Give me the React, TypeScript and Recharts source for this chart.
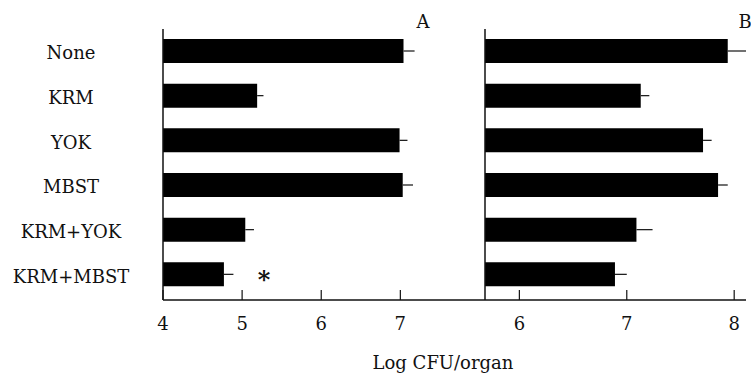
import { Bar, BarChart, ErrorBar, LabelList, XAxis, YAxis } from "recharts";

const categories = ["None", "KRM", "YOK", "MBST", "KRM+YOK", "KRM+MBST"];
const panelAValues = [7.04, 5.19, 6.99, 7.03, 5.04, 4.77];
const panelAErrors = [0.14, 0.08, 0.1, 0.13, 0.11, 0.12];
const panelBValues = [7.94, 7.13, 7.71, 7.85, 7.09, 6.89];
const panelBErrors = [0.17, 0.08, 0.08, 0.09, 0.15, 0.11];
const panelATicks = [4, 5, 6, 7];
const panelBTicks = [6, 7, 8];
const significantA = ["KRM+MBST"];

const FONT = "'DejaVu Serif', serif";
const INK = "#111111";

const buildRows = (values: number[], errors: number[]) =>
  categories.map((name, i) => ({ name, value: values[i], err: [0, errors[i]] }));

const rowsA = buildRows(panelAValues, panelAErrors);
const rowsB = buildRows(panelBValues, panelBErrors);

function XTick({ x, y, payload }: any) {
  return (
    <g>
      <line x1={x} y1={y} x2={x} y2={y - 10} stroke={INK} strokeWidth={1.2} />
      <text x={x} y={y + 30} textAnchor="middle" fontFamily={FONT} fontSize={18} fill={INK}>
        {payload.value}
      </text>
    </g>
  );
}

function CategoryTick({ x, y, payload }: any) {
  return (
    <text x={x - 92} y={y + 8} textAnchor="middle" fontFamily={FONT} fontSize={18} fill={INK}>
      {payload.value}
    </text>
  );
}

function StarLabel(props: any) {
  const { x, y, width, height, index } = props;
  if (!significantA.includes(categories[index])) return null;
  return (
    <text
      x={Number(x) + Number(width) + 40}
      y={Number(y) + Number(height) / 2 + 14}
      textAnchor="middle"
      fontFamily={FONT}
      fontSize={24}
      fontWeight="bold"
      fill={INK}
    >
      *
    </text>
  );
}

export default function App() {
  return (
    <div style={{ position: "absolute", left: 0, top: 0, width: 751, height: 373, background: "#fff" }}>
      <div style={{ position: "absolute", left: 0, top: 0 }}>
        <BarChart
          width={485}
          height={373}
          data={rowsA}
          layout="vertical"
          margin={{ top: 29, right: 0, bottom: 43, left: 0 }}
        >
          <XAxis
            type="number"
            domain={[4, 8.07]}
            ticks={panelATicks}
            height={30}
            tickSize={0}
            tickMargin={0}
            tickLine={false}
            axisLine={{ stroke: INK, strokeWidth: 1.5 }}
            tick={<XTick />}
          />
          <YAxis
            type="category"
            dataKey="name"
            width={163}
            padding={{ top: 0, bottom: 3 }}
            tickSize={0}
            tickMargin={0}
            tickLine={false}
            axisLine={{ stroke: INK, strokeWidth: 1.5 }}
            tick={<CategoryTick />}
          />
          <Bar dataKey="value" fill="#000" barSize={24} isAnimationActive={false}>
            <ErrorBar dataKey="err" direction="x" width={0} stroke={INK} strokeWidth={1.2} />
            <LabelList dataKey="value" content={<StarLabel />} />
          </Bar>
        </BarChart>
      </div>
      <div style={{ position: "absolute", left: 475, top: 0 }}>
        <BarChart
          width={276}
          height={373}
          data={rowsB}
          layout="vertical"
          margin={{ top: 29, right: 5, bottom: 43, left: 0 }}
        >
          <XAxis
            type="number"
            domain={[5.68, 8.11]}
            ticks={panelBTicks}
            height={30}
            tickSize={0}
            tickMargin={0}
            tickLine={false}
            axisLine={{ stroke: INK, strokeWidth: 1.5 }}
            tick={<XTick />}
          />
          <YAxis
            type="category"
            dataKey="name"
            width={10}
            padding={{ top: 0, bottom: 3 }}
            tick={false}
            tickLine={false}
            axisLine={{ stroke: INK, strokeWidth: 1.5 }}
          />
          <Bar dataKey="value" fill="#000" barSize={24} isAnimationActive={false}>
            <ErrorBar dataKey="err" direction="x" width={0} stroke={INK} strokeWidth={1.2} />
          </Bar>
        </BarChart>
      </div>
      <svg width={751} height={373} style={{ position: "absolute", left: 0, top: 0, pointerEvents: "none" }}>
        <text x={423} y={28} textAnchor="middle" fontFamily={FONT} fontSize={18} fill={INK}>
          A
        </text>
        <text x={745} y={28} textAnchor="middle" fontFamily={FONT} fontSize={18} fill={INK}>
          B
        </text>
        <text x={443} y={369} textAnchor="middle" fontFamily={FONT} fontSize={18} fill={INK}>
          Log CFU/organ
        </text>
      </svg>
    </div>
  );
}
